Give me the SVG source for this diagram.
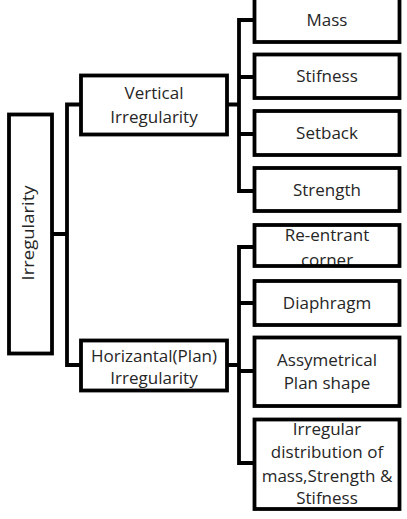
<svg xmlns="http://www.w3.org/2000/svg" width="407" height="519" viewBox="0 0 407 519">
<style>
.box{fill:#fff;stroke:#000;stroke-width:3.8}
.ln{fill:none;stroke:#000;stroke-width:3.8;stroke-linejoin:miter;stroke-linecap:square}
text{font-family:"Open Sans","Liberation Sans",sans-serif;font-size:17px;fill:#262626;text-anchor:middle}
</style>
<rect width="407" height="519" fill="#fff"/>
<g id="connectors">
<path class="ln" d="M53,234 H67 M81,104.5 H67 V365 H81"/>
<path class="ln" d="M227,104.5 H239 M254,20 H239 V191 H254 M239,77 H254 M239,134 H254"/>
<path class="ln" d="M227,365 H239 M254,247 H239 V463 H254 M239,303 H254 M239,371 H254"/>
</g>
<g id="root">
<rect class="box" x="9" y="114.5" width="43" height="239"/>
<text transform="translate(34,233) rotate(-90)" font-size="15" textLength="95" lengthAdjust="spacingAndGlyphs">Irregularity</text>
</g>
<g id="vertical">
<rect class="box" x="81" y="75.5" width="146" height="59"/>
<text x="154" y="99">Vertical</text>
<text x="154" y="122.5">Irregularity</text>
</g>
<g id="horizontal">
<rect class="box" x="81" y="340.5" width="146" height="50"/>
<text x="154" y="361.5">Horizantal(Plan)</text>
<text x="154" y="384">Irregularity</text>
</g>
<g id="mass">
<rect class="box" x="254.5" y="-10" width="145" height="52"/>
<text x="327" y="26">Mass</text>
</g>
<g id="stifness">
<rect class="box" x="254.5" y="54.5" width="145" height="43.5"/>
<text x="327" y="82">Stifness</text>
</g>
<g id="setback">
<rect class="box" x="254.5" y="111" width="145" height="44"/>
<text x="327" y="139">Setback</text>
</g>
<g id="strength">
<rect class="box" x="254.5" y="168" width="145" height="43"/>
<text x="327" y="196">Strength</text>
</g>
<g id="reentrant">
<rect x="254.5" y="225" width="145" height="41" fill="#fff"/>
<text x="327" y="241">Re-entrant</text>
<text x="327" y="266">corner</text>
<rect x="254.5" y="225" width="145" height="41" fill="none" stroke="#000" stroke-width="3.8"/>
<rect x="252" y="268" width="150" height="10" fill="#fff"/>
</g>
<g id="diaphragm">
<rect class="box" x="254.5" y="281" width="145" height="44"/>
<text x="327" y="309">Diaphragm</text>
</g>
<g id="assymetrical">
<rect class="box" x="254.5" y="337.5" width="145" height="68.5"/>
<text x="327" y="366">Assymetrical</text>
<text x="327" y="388.5">Plan shape</text>
</g>
<g id="irregular">
<rect class="box" x="254.5" y="419.5" width="145" height="89.5"/>
<text x="327" y="435">Irregular</text>
<text x="327" y="458">distribution of</text>
<text x="327" y="481.5">mass,Strength &amp;</text>
<text x="327" y="504">Stifness</text>
</g>
</svg>
